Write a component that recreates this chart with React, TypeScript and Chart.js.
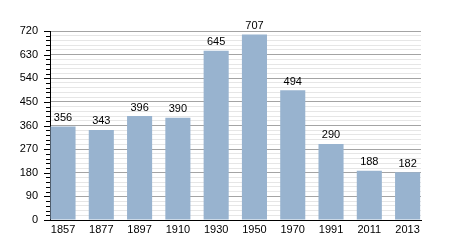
import React, { useEffect, useRef } from "react";
import { Chart, registerables } from "chart.js";

Chart.register(...registerables);

const years = ["1857", "1877", "1897", "1910", "1930", "1950", "1970", "1991", "2011", "2013"];
const population = [356, 343, 396, 390, 645, 707, 494, 290, 188, 182];

const FONT = "'Liberation Sans', Arial, sans-serif";

const valueLabels = {
  id: "valueLabels",
  afterDatasetsDraw(chart: any) {
    const ctx = chart.ctx;
    const meta = chart.getDatasetMeta(0);
    ctx.save();
    ctx.font = `11px ${FONT}`;
    ctx.fillStyle = "#000";
    ctx.textAlign = "center";
    ctx.textBaseline = "bottom";
    meta.data.forEach((bar: any, i: number) => {
      ctx.fillText(String(population[i]), bar.x, bar.y - 3);
    });
    ctx.restore();
  },
};

const yTickMarks = {
  id: "yTickMarks",
  afterDraw(chart: any) {
    const ctx = chart.ctx;
    const y = chart.scales.y;
    const left = chart.chartArea.left;
    ctx.save();
    ctx.strokeStyle = "#000";
    ctx.lineWidth = 1;
    y.ticks.forEach((t: any) => {
      const py = Math.round(y.getPixelForValue(t.value)) + 0.5;
      const len = t.value % 90 === 0 ? 6 : 4;
      ctx.beginPath();
      ctx.moveTo(left - len, py);
      ctx.lineTo(left, py);
      ctx.stroke();
    });
    ctx.restore();
  },
};

export default function App() {
  const ref = useRef<HTMLCanvasElement>(null);
  useEffect(() => {
    document.body.style.margin = "0";
    const chart = new Chart(ref.current!, {
      type: "bar",
      data: {
        datasets: [
          {
            data: population.map((v, i) => ({ x: i, y: v })),
            backgroundColor: "#98b3cf",
            barPercentage: 0.655,
            categoryPercentage: 1,
          },
        ],
      },
      options: {
        animation: false,
        responsive: false,
        layout: { padding: { left: 0, right: 29, top: 31, bottom: 10 } },
        plugins: { legend: { display: false }, tooltip: { enabled: false } },
        scales: {
          x: {
            type: "linear",
            offset: false,
            min: -0.34,
            max: 9.35,
            grid: { display: false, drawTicks: false },
            border: { color: "#000", width: 1 },
            afterBuildTicks: (s: any) => {
              s.ticks = years.map((_, i) => ({ value: i }));
            },
            ticks: {
              autoSkip: false,
              color: "#000",
              font: { family: FONT, size: 11 },
              padding: 3,
              maxRotation: 0,
              callback: (v: any) => {
                const n = Number(v);
                return Number.isInteger(n) && years[n] ? years[n] : "";
              },
            },
            afterFit: (s: any) => {
              s.height = 20;
            },
          },
          y: {
            min: 0,
            max: 720,
            border: { color: "#000", width: 1 },
            grid: {
              color: (c: any) => (c.tick && c.tick.value % 90 === 0 ? "#a4a4a4" : "#e6e6e6"),
              drawTicks: false,
            },
            ticks: {
              stepSize: 18,
              autoSkip: false,
              color: "#000",
              padding: 12,
              font: { family: FONT, size: 11 },
              callback: (v: any) => (Number(v) % 90 === 0 ? String(v) : ""),
            },
            afterFit: (s: any) => {
              s.width = 50;
            },
          },
        },
      },
      plugins: [valueLabels, yTickMarks],
    });
    return () => chart.destroy();
  }, []);
  return <canvas ref={ref} width={450} height={250} />;
}
